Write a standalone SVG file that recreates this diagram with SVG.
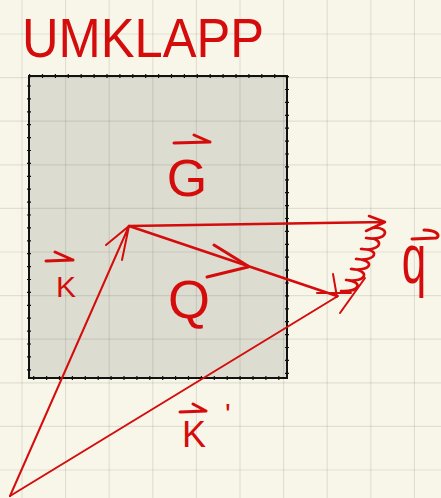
<svg xmlns="http://www.w3.org/2000/svg" width="441" height="498" viewBox="0 0 441 498">
<style>
.grid{stroke:#000;stroke-opacity:0.09;stroke-width:1.2;fill:none}
.ink{stroke:#d40c0c;fill:none;stroke-linecap:round;stroke-linejoin:round}
.lbl{fill:#d40c0c;font-family:"Liberation Sans",Arial,sans-serif}
</style>
<rect width="441" height="498" fill="#f8f5e9"/>
<g id="box">
<rect x="29" y="76" width="258" height="302" fill="#dddcd0" stroke="#111" stroke-width="2"/>
<rect x="29" y="76" width="258" height="302" fill="none" stroke="#111" stroke-width="4" stroke-dasharray="1.2 11.7"/>
</g>
<g id="grid" class="grid">
<path d="M22,0V498M65.6,0V498M109.2,0V498M152.8,0V498M196.4,0V498M240,0V498M283.6,0V498M327.2,0V498M370.8,0V498M414.4,0V498"/>
<path d="M0,34H441M0,77.6H441M0,121.2H441M0,164.8H441M0,208.4H441M0,252H441M0,295.6H441M0,339.2H441M0,382.8H441M0,426.4H441M0,470H441"/>
</g>
<g id="title"><text class="lbl" x="22" y="57" font-size="56" textLength="242" lengthAdjust="spacingAndGlyphs">UMKLAPP</text></g>
<g id="connectors" class="ink">
<path id="vecK" d="M10,496 L129,226 M106,245 L129,226 L122,260" stroke-width="2"/>
<path id="vecKp" d="M10,496 L338,296 M333,274 L337,297 M317,293 L351,293 M340,313 L365,278" stroke-width="2"/>
<path id="vecG" d="M129,226 L385,222 M369,216 L385,222 L366,231" stroke-width="2.6"/>
<path id="vecQ" d="M129,226 L337,296" stroke-width="2.6"/>
<path id="phonon" d="M372,228 C392,226 388,242 366,238 C386,238 382,252 361,249 C381,249 377,262 356,259 C376,260 372,272 351,269 C371,270 367,283 346,280 C364,282 360,292 341,291" stroke-width="2.6"/>
</g>
<g id="labels">
<g id="labelG"><path class="ink" d="M174,143 L210,142 M194,135 L210,142" stroke-width="3"/><text class="lbl" x="187" y="196" font-size="52" text-anchor="middle">G</text></g>
<g id="labelK"><path class="ink" d="M46,261 L73,260 M55,252 L73,260" stroke-width="3"/><text class="lbl" x="66" y="297" font-size="30" text-anchor="middle">K</text></g>
<g id="labelKp"><path class="ink" d="M180,412 L206,411 M193,404 L206,411" stroke-width="3"/><text class="lbl" x="182" y="447" font-size="36">K<tspan x="225" y="424" font-size="30">'</tspan></text></g>
<g id="labelQ"><path class="ink" d="M207,277 L248,267 M214,245 L248,266" stroke-width="3"/><text class="lbl" x="189" y="318" font-size="54" text-anchor="middle">Q</text></g>
<g id="labelq"><path class="ink" d="M412,239 L436,238 C441,236 437,230 424,230" stroke-width="3"/><text class="lbl" transform="translate(414,283) scale(1,1.6)" font-size="44" text-anchor="middle">q</text></g>
</g>
</svg>
